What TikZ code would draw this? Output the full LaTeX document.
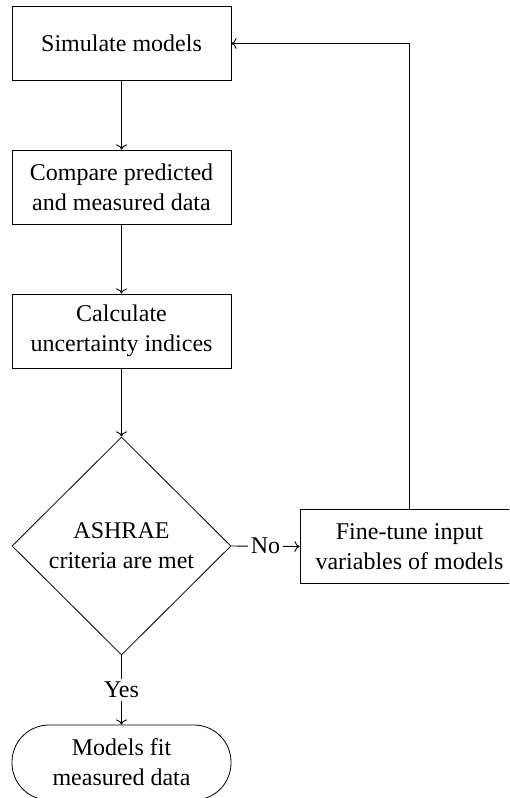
\documentclass[tikz,border=0pt]{standalone}
\usepackage{fontspec}
\setmainfont{Liberation Serif}
\usetikzlibrary{shapes.geometric,arrows.meta}
\begin{document}
\begin{tikzpicture}[x=0.5pt,y=-0.5pt,
  font=\fontsize{12}{15}\selectfont,
  stepbox/.style={draw,rectangle,align=center,minimum width=109.5pt,minimum height=37pt,inner sep=2pt},
  decision/.style={draw,diamond,aspect=1,align=center,minimum width=109.5pt,minimum height=109pt,inner sep=0pt},
  terminal/.style={draw,rectangle,rounded corners=18.5pt,align=center,minimum width=109.5pt,minimum height=37.5pt},
  flow/.style={->,line width=0.45pt},
  lbl/.style={fill=white,inner sep=1.5pt}]
  \clip (0,0) rectangle (509,798);
  \useasboundingbox (0,0) rectangle (509,798);

  % process steps
  \node[stepbox] (sim)  at (121.5,43.5) {Simulate models};
  \node[stepbox] (cmp)  at (121.5,187)  {Compare predicted\\and measured data};
  \node[stepbox] (calc) at (121.5,331)  {Calculate\\uncertainty indices};
  \node[decision] (dec) at (121.5,546)  {ASHRAE\\criteria are met};
  \node[stepbox] (tune) at (409.5,546.5) {Fine-tune input\\variables of models};
  \node[terminal] (end) at (121.5,762.5) {Models fit\\measured data};
  \coordinate (corner) at (409.5,43.5);

  % connectors
  \draw[flow] (sim) -- (cmp);
  \draw[flow] (cmp) -- (calc);
  \draw[flow] (calc) -- (dec);
  \draw[flow] (dec.east) -- node[lbl] (no) {No} (tune.west);
  \draw[flow] (dec.south) -- node[lbl] (yes) {Yes} (end.north);
  \draw[flow] (tune.north) -- (corner) -- (sim.east);
\end{tikzpicture}
\end{document}
